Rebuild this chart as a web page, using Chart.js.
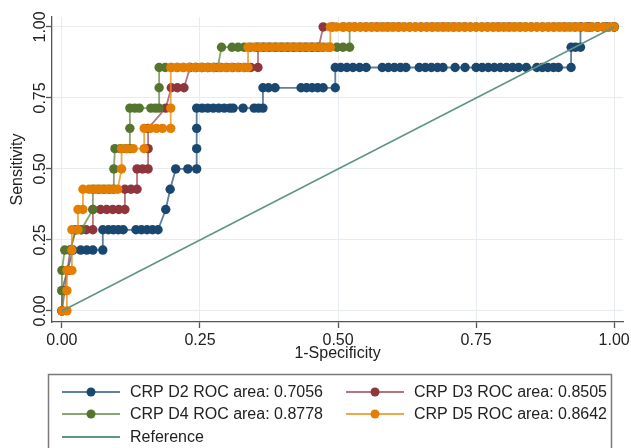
<!DOCTYPE html>
<html>
<head>
<meta charset="utf-8">
<script src="https://cdn.jsdelivr.net/npm/chart.js"></script>
<style>
  html, body { margin: 0; padding: 0; background: #fff; }
  #wrap { position: relative; width: 631px; height: 448px; }
</style>
</head>
<body>
<div id="wrap"><canvas id="rocChart"></canvas></div>
<script>
// ROC points.
// Each list is indexed by the number of true positives (0..14, sensitivity = i/14);
// the values in it are the 1-specificity cut points in percent at that level.
const nPositives = 14;

const d2Fpr = [
  [0], [0], [1], [2, 3.4, 4.5, 5.6, 7.4],
  [7.4, 8.4, 9.3, 10.2, 11.1, 13.4, 14.4, 15.4, 16.4, 17.4],
  [18.8], [19.6], [20.6, 22.8, 24.4], [24.4], [24.4],
  [24.4, 25.4, 26.4, 27.4, 28.4, 29.4, 30.4, 31, 32.8, 34.8, 35.6, 36.4],
  [36.4, 37.4, 38.6, 43.3, 44.3, 45.3, 46.3, 47.3, 49.5],
  [49.5, 50.5, 51.6, 52.7, 53.9, 55.1, 58, 59.1, 60.2, 61.3, 62.3, 64.7, 65.8, 66.9, 68, 69,
   71.2, 73, 75, 76.1, 77.2, 78.3, 79.4, 80.5, 81.6, 82.7, 84.1, 86, 87, 88, 89, 89.9, 92.2],
  [92.2, 93, 93.9],
  [93.9, 95.5, 97, 98.5, 100]
];

const d3Fpr = [
  [0], [0.5], [1], [1.5], [2.5, 3.5, 4.4, 5.6],
  [5.6, 7, 8.1, 9.2, 10.3, 11.4], [11.4, 12.5, 13.6], [13.6, 14.6, 15.6], [15.6], [15.6],
  [18.8], [19.8, 20.9, 22.1],
  [23.2, 24.3, 25.4, 26.5, 27.6, 28.7, 29.8, 30.9, 32, 33.1, 34.2, 35.5],
  [35.5, 36.6, 37.7, 38.8, 39.9, 41, 42.1, 43.2, 44.3, 45.4, 46.5],
  [47.3, 49, 51, 53, 55, 57, 59, 61, 63, 65, 67, 69, 71, 73, 75, 77, 79, 81, 83, 85,
   87, 89, 91, 93, 95, 97, 99, 100]
];

const d4Fpr = [
  [0], [0], [0], [0.5, 1.5], [2.5, 3.5],
  [5.6], [5.6, 6.6, 7.6, 8.6, 9.4], [9.4], [9.6, 10.6, 11.6, 12.3], [12.3],
  [12.3, 13.2, 14, 16.1, 16.9, 17.6], [17.6],
  [17.6, 18.7, 19.8, 20.9, 22, 23.1, 24.2, 25.3, 26.4, 27.5, 28.2],
  [28.9, 30.8, 31.9, 33, 34.1, 35.2, 36.3, 37.4, 38.5, 39.6, 40.7, 41.8, 42.9, 44, 45.1,
   46.2, 47.3, 48.5, 49.8, 50.9, 52.1],
  [52.1, 54, 56, 58, 60, 62, 64, 66, 68, 70, 72, 74, 76, 78, 80, 82, 84, 86, 88, 90,
   92, 94, 96, 98, 100]
];

const d5Fpr = [
  [0, 0.9], [0.9], [0.9, 1.8], [1.8], [1.8, 2.9], [2.9, 3.8],
  [3.8, 4.9, 6, 7.1, 8.2, 9.2, 10.1], [10.8], [10.8, 11.8, 12.9, 14.9],
  [14.9, 16, 17.1, 18.2, 19.7], [19.7], [],
  [19.7, 20.8, 21.9, 23, 24.1, 25.2, 26.3, 27.4, 28.5, 29.6, 30.7, 31.8, 32.9, 33.7],
  [33.7, 34.8, 35.9, 37, 38.1, 39.2, 40.3, 41.4, 42.5, 43.6, 44.7, 45.8, 46.9, 48, 48.6],
  [48.6, 49.7, 50.8, 51.9, 53, 54.1, 55.2, 56.3, 57.4, 58.5, 59.6, 60.7, 61.8, 62.9, 64,
   65.1, 66.2, 67.3, 68.4, 69.5, 70.6, 71.7, 72.8, 73.9, 75, 76.1, 77.2, 78.3, 79.4, 80.5,
   81.6, 82.7, 83.8, 84.9, 86, 87.1, 88.2, 89.3, 90.4, 91.5, 92.6, 93.7, 94.8, 95.9, 97,
   98.1, 99.2, 100]
];

const seriesLabels = [
  "CRP D2 ROC area: 0.7056",
  "CRP D3 ROC area: 0.8505",
  "CRP D4 ROC area: 0.8778",
  "CRP D5 ROC area: 0.8642"
];
const referenceLabel = "Reference";
const referencePoints = [[0, 0], [1, 1]];
const axisTicks = [0, 0.25, 0.5, 0.75, 1];

const seriesColors = ["#1a476f", "#90353b", "#55752f", "#e37e00"];
const seriesLines = ["rgba(40,85,130,0.75)", "rgba(160,70,80,0.75)", "rgba(100,135,65,0.75)", "rgba(235,145,30,0.8)"];
const referenceColor = "#5f9585";

function toPoints(levels) {
  const pts = [];
  levels.forEach(function (row, tp) {
    row.forEach(function (fpr) {
      pts.push({ x: fpr / 100, y: tp / nPositives });
    });
  });
  return pts;
}

const FONT = "'Liberation Sans', Arial, sans-serif";

// legend box drawn under the plot, two columns like the original
const legendBox = {
  id: "legendBox",
  afterDraw(chart) {
    const ctx = chart.ctx;
    ctx.save();
    ctx.strokeStyle = "#7a7a7a";
    ctx.lineWidth = 1.5;
    ctx.strokeRect(48.5, 374.5, 563, 90);

    const cells = [
      { x: 62, y: 392, i: 0 },
      { x: 346, y: 392, i: 1 },
      { x: 62, y: 414, i: 2 },
      { x: 346, y: 414, i: 3 },
      { x: 62, y: 437, i: -1 }
    ];
    ctx.font = "16px " + FONT;
    ctx.textBaseline = "middle";
    ctx.textAlign = "left";
    cells.forEach(function (c) {
      const line = c.i < 0 ? referenceColor : seriesLines[c.i];
      ctx.strokeStyle = line;
      ctx.lineWidth = 2;
      ctx.beginPath();
      ctx.moveTo(c.x, c.y);
      ctx.lineTo(c.x + 58, c.y);
      ctx.stroke();
      if (c.i >= 0) {
        ctx.fillStyle = seriesColors[c.i];
        ctx.beginPath();
        ctx.arc(c.x + 29, c.y, 4.5, 0, Math.PI * 2);
        ctx.fill();
      }
      ctx.fillStyle = "#222";
      ctx.fillText(c.i < 0 ? referenceLabel : seriesLabels[c.i], c.x + 68, c.y + 1);
    });
    ctx.restore();
  }
};

document.addEventListener("DOMContentLoaded", function () {
  const allFpr = [d2Fpr, d3Fpr, d4Fpr, d5Fpr];
  const datasets = allFpr.map(function (levels, i) {
    return {
      label: seriesLabels[i],
      data: toPoints(levels),
      showLine: true,
      borderColor: seriesLines[i],
      borderWidth: 1.8,
      pointRadius: 4.7,
      pointHoverRadius: 4.7,
      pointBorderWidth: 0,
      pointBackgroundColor: seriesColors[i],
      tension: 0,
      order: 4 - i
    };
  });
  datasets.push({
    label: referenceLabel,
    data: referencePoints.map(function (p) { return { x: p[0], y: p[1] }; }),
    showLine: true,
    borderColor: referenceColor,
    borderWidth: 1.6,
    pointRadius: 0,
    order: 0
  });

  new Chart(document.getElementById("rocChart"), {
    type: "scatter",
    data: { datasets: datasets },
    plugins: [legendBox],
    options: {
      responsive: true,
      maintainAspectRatio: false,
      animation: false,
      layout: { padding: { left: 0, top: 17, right: 8, bottom: 84 } },
      plugins: {
        legend: { display: false },
        tooltip: { enabled: false }
      },
      scales: {
        x: {
          type: "linear",
          min: -0.018,
          max: 1.016,
          afterBuildTicks: function (scale) {
            scale.ticks = axisTicks.map(function (v) { return { value: v }; });
          },
          afterFit: function (scale) {
            scale.height = 42;
            scale.paddingLeft = 0;
            scale.paddingRight = 0;
          },
          grid: { color: "#e6ecef", lineWidth: 1, tickLength: 6, tickColor: "#555", tickWidth: 1.3 },
          border: { color: "#555", width: 1.3 },
          ticks: {
            padding: 3,
            color: "#222",
            font: { family: FONT, size: 16 },
            maxRotation: 0,
            callback: function (v) { return v.toFixed(2); }
          },
          title: {
            display: true,
            text: "1-Specificity",
            color: "#222",
            font: { family: FONT, size: 16 },
            padding: { top: 0, bottom: 1 }
          }
        },
        y: {
          type: "linear",
          min: -0.039,
          max: 1.035,
          afterBuildTicks: function (scale) {
            scale.ticks = axisTicks.map(function (v) { return { value: v }; });
          },
          afterFit: function (scale) {
            scale.width = 52;
            scale.paddingTop = 0;
            scale.paddingBottom = 0;
          },
          grid: { color: "#e6ecef", lineWidth: 1, tickLength: 6, tickColor: "#555", tickWidth: 1.3 },
          border: { color: "#555", width: 1.3 },
          ticks: {
            padding: -10.5,
            color: "#222",
            crossAlign: "center",
            minRotation: 90,
            maxRotation: 90,
            font: { family: FONT, size: 16 },
            callback: function (v) { return v.toFixed(2); }
          },
          title: {
            display: true,
            text: "Sensitivity",
            color: "#222",
            font: { family: FONT, size: 16 },
            padding: { top: 8, bottom: 0 }
          }
        }
      }
    }
  });
});
</script>
</body>
</html>
